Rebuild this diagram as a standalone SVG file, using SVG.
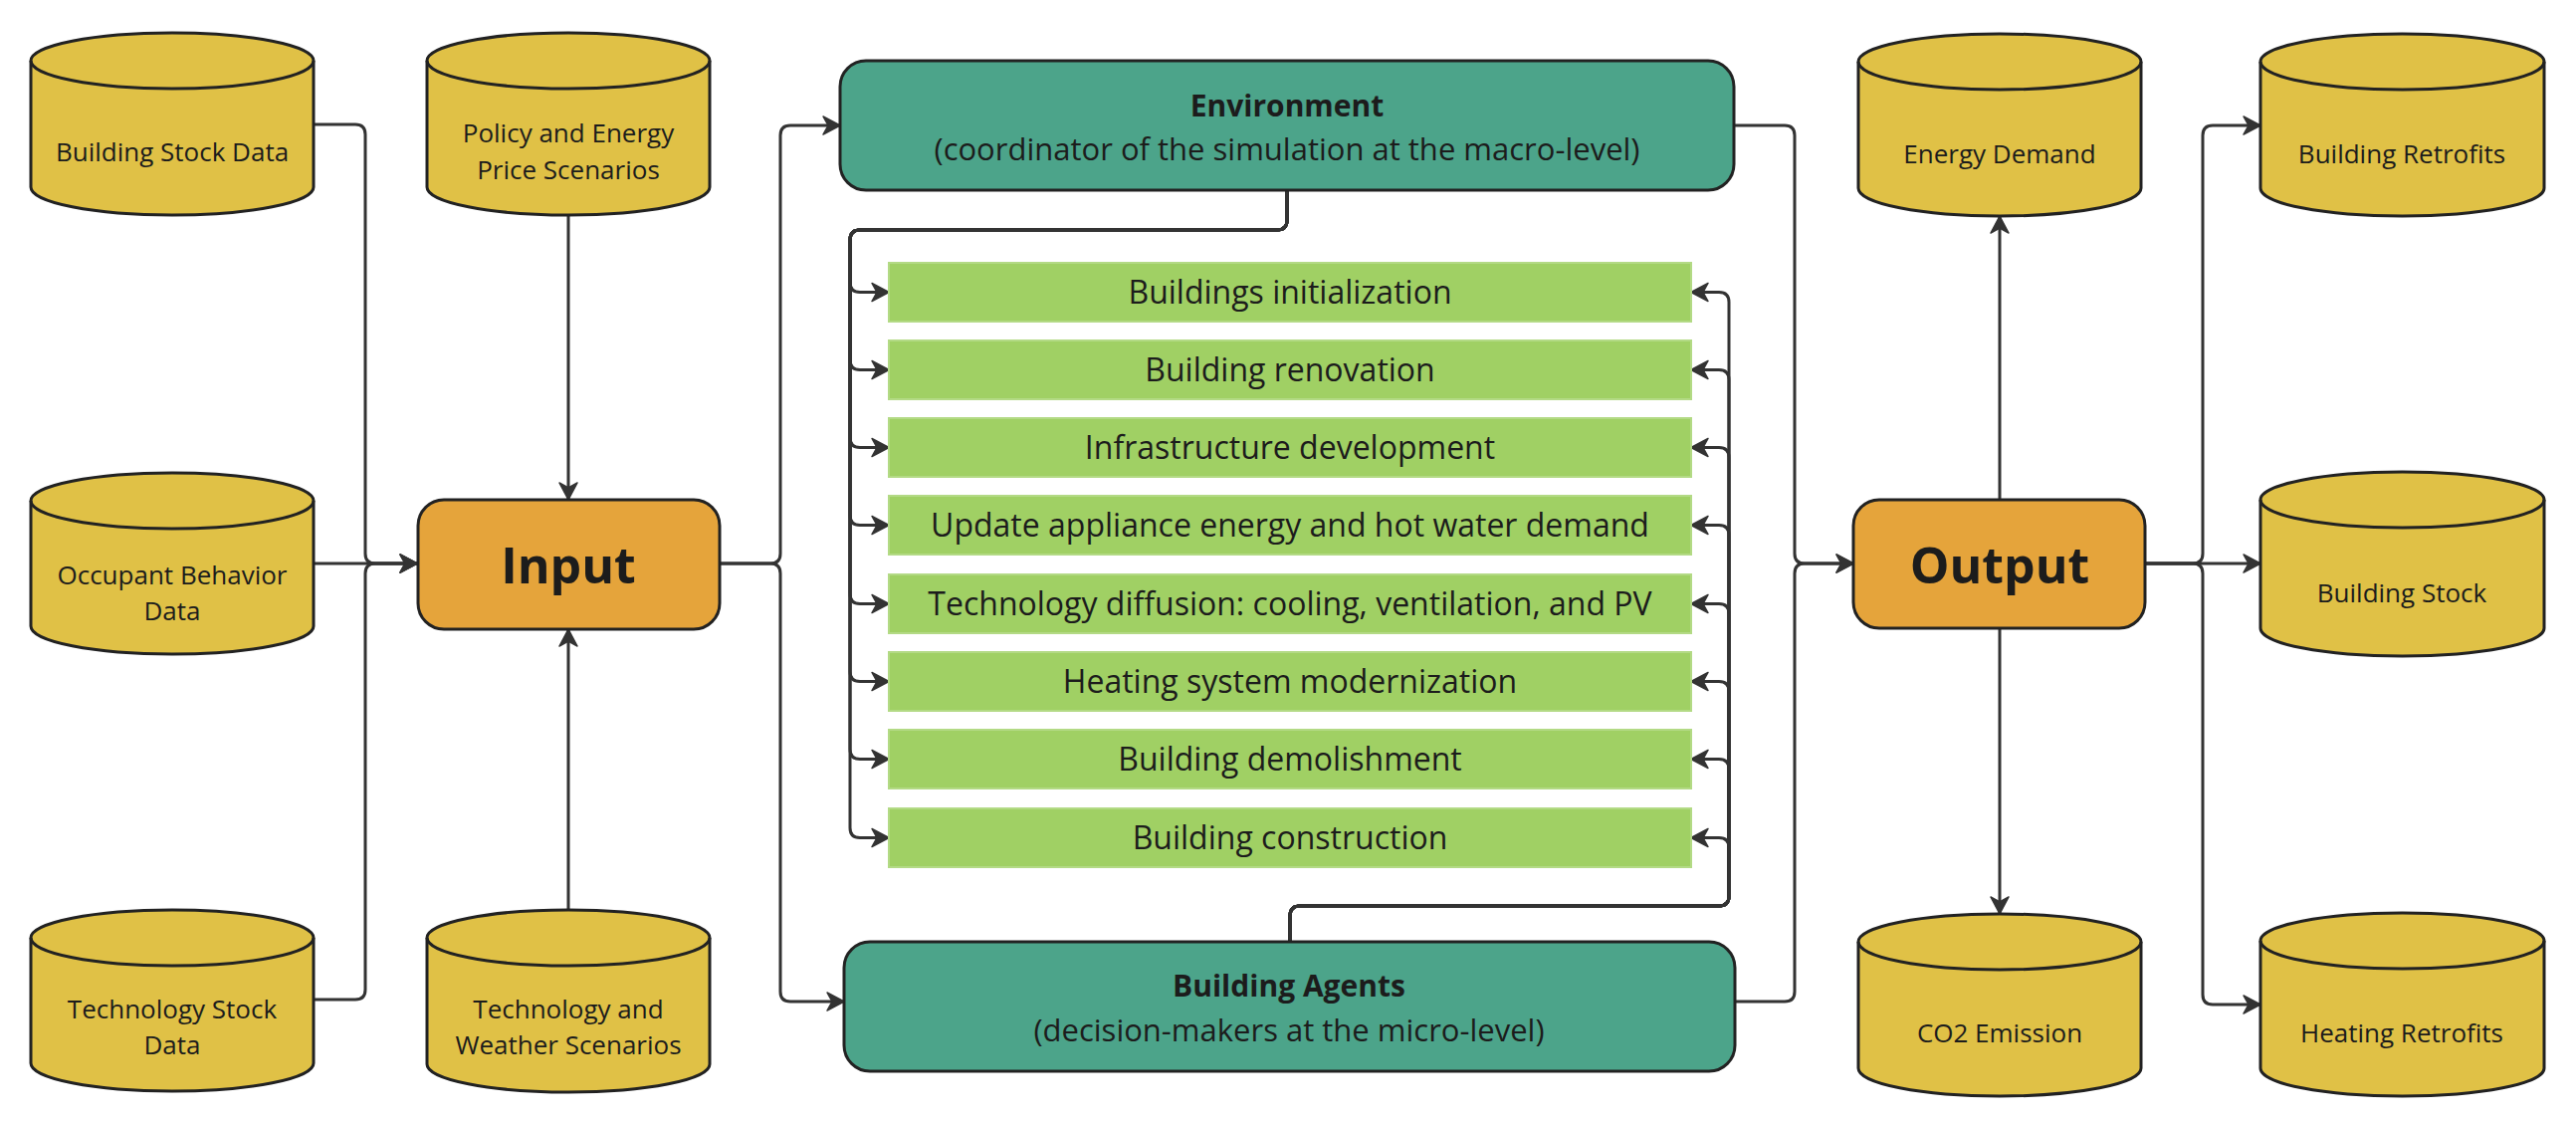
<svg xmlns="http://www.w3.org/2000/svg" width="2588" height="1126" viewBox="0 0 2588 1126">
<defs>
<style>
text{font-family:"Open Sans","Noto Sans","Liberation Sans",sans-serif;fill:#1c1c1c;text-anchor:middle}
.cyl{fill:#E0C146;stroke:#222;stroke-width:3;stroke-linejoin:round}
.rim{fill:none;stroke:#222;stroke-width:3}
.cylt{font-size:26px}
.io{fill:#E5A43B;stroke:#222;stroke-width:3}
.iot{font-size:50px;font-weight:bold}
.env{fill:#4CA48A;stroke:#222;stroke-width:3}
.envb{font-size:30px;font-weight:bold}
.envs{font-size:31px}
.step{fill:#A0D064;stroke:#B3DA85;stroke-width:2}
.stept{font-size:32px}
.con{fill:none;stroke:#333;stroke-width:3;marker-end:url(#ah)}
</style>
<marker id="ah" viewBox="-20 -12 22 24" refX="0" refY="0" markerWidth="22" markerHeight="24" markerUnits="userSpaceOnUse" orient="auto">
<path d="M0,0 L-17,-9 L-12,0 L-17,9 Z" fill="#333" stroke="#333" stroke-width="1.5" stroke-linejoin="round"/>
</marker>
</defs>
<rect width="2588" height="1126" fill="#fff"/>

<g id="connectors">
<path class="con" d="M315,125 H357 Q367,125 367,135 V556 Q367,566 377,566 H419"/>
<path class="con" d="M315,566 H419"/>
<path class="con" d="M315,1004 H357 Q367,1004 367,994 V576 Q367,566 377,566 H419"/>
<path class="con" d="M571,216 V502"/>
<path class="con" d="M571,914 V632"/>
<path class="con" d="M723,566 H774 Q784,566 784,556 V136 Q784,126 794,126 H844"/>
<path class="con" d="M723,566 H774 Q784,566 784,576 V996 Q784,1006 794,1006 H848"/>
<path class="con" d="M1293,191 V221 Q1293,231 1283,231 H864 Q854,231 854,241 V283.5 Q854,293.5 864,293.5 H893"/>
<path class="con" d="M1293,191 V221 Q1293,231 1283,231 H864 Q854,231 854,241 V361.5 Q854,371.5 864,371.5 H893"/>
<path class="con" d="M1293,191 V221 Q1293,231 1283,231 H864 Q854,231 854,241 V439.5 Q854,449.5 864,449.5 H893"/>
<path class="con" d="M1293,191 V221 Q1293,231 1283,231 H864 Q854,231 854,241 V517.5 Q854,527.5 864,527.5 H893"/>
<path class="con" d="M1293,191 V221 Q1293,231 1283,231 H864 Q854,231 854,241 V596.5 Q854,606.5 864,606.5 H893"/>
<path class="con" d="M1293,191 V221 Q1293,231 1283,231 H864 Q854,231 854,241 V674.5 Q854,684.5 864,684.5 H893"/>
<path class="con" d="M1293,191 V221 Q1293,231 1283,231 H864 Q854,231 854,241 V752.5 Q854,762.5 864,762.5 H893"/>
<path class="con" d="M1293,191 V221 Q1293,231 1283,231 H864 Q854,231 854,241 V831.5 Q854,841.5 864,841.5 H893"/>
<path class="con" d="M1296,946 V920 Q1296,910 1306,910 H1727 Q1737,910 1737,900 V303.5 Q1737,293.5 1727,293.5 H1699"/>
<path class="con" d="M1296,946 V920 Q1296,910 1306,910 H1727 Q1737,910 1737,900 V381.5 Q1737,371.5 1727,371.5 H1699"/>
<path class="con" d="M1296,946 V920 Q1296,910 1306,910 H1727 Q1737,910 1737,900 V459.5 Q1737,449.5 1727,449.5 H1699"/>
<path class="con" d="M1296,946 V920 Q1296,910 1306,910 H1727 Q1737,910 1737,900 V537.5 Q1737,527.5 1727,527.5 H1699"/>
<path class="con" d="M1296,946 V920 Q1296,910 1306,910 H1727 Q1737,910 1737,900 V616.5 Q1737,606.5 1727,606.5 H1699"/>
<path class="con" d="M1296,946 V920 Q1296,910 1306,910 H1727 Q1737,910 1737,900 V694.5 Q1737,684.5 1727,684.5 H1699"/>
<path class="con" d="M1296,946 V920 Q1296,910 1306,910 H1727 Q1737,910 1737,900 V772.5 Q1737,762.5 1727,762.5 H1699"/>
<path class="con" d="M1296,946 V920 Q1296,910 1306,910 H1727 Q1737,910 1737,900 V851.5 Q1737,841.5 1727,841.5 H1699"/>
<path class="con" d="M1742,126 H1793 Q1803,126 1803,136 V556 Q1803,566 1813,566 H1862"/>
<path class="con" d="M1743,1006 H1793 Q1803,1006 1803,996 V576 Q1803,566 1813,566 H1862"/>
<path class="con" d="M2009,502 V217"/>
<path class="con" d="M2009,631 V918"/>
<path class="con" d="M2155,566 H2203 Q2213,566 2213,556 V136 Q2213,126 2223,126 H2271"/>
<path class="con" d="M2155,566 H2271"/>
<path class="con" d="M2155,566 H2203 Q2213,566 2213,576 V999 Q2213,1009 2223,1009 H2271"/>
</g>

<g id="building-stock-data">
<path class="cyl" d="M31,61 A142,28 0 0 1 315,61 V188 A142,28 0 0 1 31,188 Z"/>
<path class="rim" d="M31,61 A142,28 0 0 0 315,61"/>
<text class="cylt" x="173" y="162">Building Stock Data</text>
</g>
<g id="policy-energy-price">
<path class="cyl" d="M429,61 A142,28 0 0 1 713,61 V188 A142,28 0 0 1 429,188 Z"/>
<path class="rim" d="M429,61 A142,28 0 0 0 713,61"/>
<text class="cylt" x="571" y="143">Policy and Energy</text>
<text class="cylt" x="571" y="180">Price Scenarios</text>
</g>
<g id="occupant-behavior-data">
<path class="cyl" d="M31,503 A142,28 0 0 1 315,503 V629 A142,28 0 0 1 31,629 Z"/>
<path class="rim" d="M31,503 A142,28 0 0 0 315,503"/>
<text class="cylt" x="173" y="587">Occupant Behavior</text>
<text class="cylt" x="173" y="623">Data</text>
</g>
<g id="technology-stock-data">
<path class="cyl" d="M31,942 A142,28 0 0 1 315,942 V1068 A142,28 0 0 1 31,1068 Z"/>
<path class="rim" d="M31,942 A142,28 0 0 0 315,942"/>
<text class="cylt" x="173" y="1023">Technology Stock</text>
<text class="cylt" x="173" y="1059">Data</text>
</g>
<g id="technology-weather">
<path class="cyl" d="M429,942 A142,28 0 0 1 713,942 V1069 A142,28 0 0 1 429,1069 Z"/>
<path class="rim" d="M429,942 A142,28 0 0 0 713,942"/>
<text class="cylt" x="571" y="1023">Technology and</text>
<text class="cylt" x="571" y="1059">Weather Scenarios</text>
</g>

<g id="input">
<rect class="io" x="420" y="502" width="303" height="130" rx="26"/>
<text class="iot" x="571" y="586">Input</text>
</g>

<g id="environment">
<rect class="env" x="844" y="61" width="898" height="130" rx="26"/>
<text class="envb" x="1293" y="117">Environment</text>
<text class="envs" x="1293" y="161">(coordinator of the simulation at the macro-level)</text>
</g>

<g id="steps">
<g id="step-1"><rect class="step" x="893" y="264" width="806" height="59"/><text class="stept" x="1296" y="305">Buildings initialization</text></g>
<g id="step-2"><rect class="step" x="893" y="342" width="806" height="59"/><text class="stept" x="1296" y="383">Building renovation</text></g>
<g id="step-3"><rect class="step" x="893" y="420" width="806" height="59"/><text class="stept" x="1296" y="461">Infrastructure development</text></g>
<g id="step-4"><rect class="step" x="893" y="498" width="806" height="59"/><text class="stept" x="1296" y="539">Update appliance energy and hot water demand</text></g>
<g id="step-5"><rect class="step" x="893" y="577" width="806" height="59"/><text class="stept" x="1296" y="618">Technology diffusion: cooling, ventilation, and PV</text></g>
<g id="step-6"><rect class="step" x="893" y="655" width="806" height="59"/><text class="stept" x="1296" y="696">Heating system modernization</text></g>
<g id="step-7"><rect class="step" x="893" y="733" width="806" height="59"/><text class="stept" x="1296" y="774">Building demolishment</text></g>
<g id="step-8"><rect class="step" x="893" y="812" width="806" height="59"/><text class="stept" x="1296" y="853">Building construction</text></g>
</g>

<g id="building-agents">
<rect class="env" x="848" y="946" width="895" height="130" rx="26"/>
<text class="envb" x="1295" y="1001">Building Agents</text>
<text class="envs" x="1295" y="1046">(decision-makers at the micro-level)</text>
</g>

<g id="output">
<rect class="io" x="1862" y="502" width="293" height="129" rx="26"/>
<text class="iot" x="2009" y="586">Output</text>
</g>

<g id="energy-demand">
<path class="cyl" d="M1867,62 A142,28 0 0 1 2151,62 V189 A142,28 0 0 1 1867,189 Z"/>
<path class="rim" d="M1867,62 A142,28 0 0 0 2151,62"/>
<text class="cylt" x="2009" y="164">Energy Demand</text>
</g>
<g id="co2-emission">
<path class="cyl" d="M1867,946 A142,28 0 0 1 2151,946 V1073 A142,28 0 0 1 1867,1073 Z"/>
<path class="rim" d="M1867,946 A142,28 0 0 0 2151,946"/>
<text class="cylt" x="2009" y="1047">CO2 Emission</text>
</g>
<g id="building-retrofits">
<path class="cyl" d="M2271,62 A142.5,28 0 0 1 2556,62 V189 A142.5,28 0 0 1 2271,189 Z"/>
<path class="rim" d="M2271,62 A142.5,28 0 0 0 2556,62"/>
<text class="cylt" x="2413" y="164">Building Retrofits</text>
</g>
<g id="building-stock">
<path class="cyl" d="M2271,502 A142.5,28 0 0 1 2556,502 V631 A142.5,28 0 0 1 2271,631 Z"/>
<path class="rim" d="M2271,502 A142.5,28 0 0 0 2556,502"/>
<text class="cylt" x="2413" y="605">Building Stock</text>
</g>
<g id="heating-retrofits">
<path class="cyl" d="M2271,945 A142.5,28 0 0 1 2556,945 V1073 A142.5,28 0 0 1 2271,1073 Z"/>
<path class="rim" d="M2271,945 A142.5,28 0 0 0 2556,945"/>
<text class="cylt" x="2413" y="1047">Heating Retrofits</text>
</g>
</svg>
